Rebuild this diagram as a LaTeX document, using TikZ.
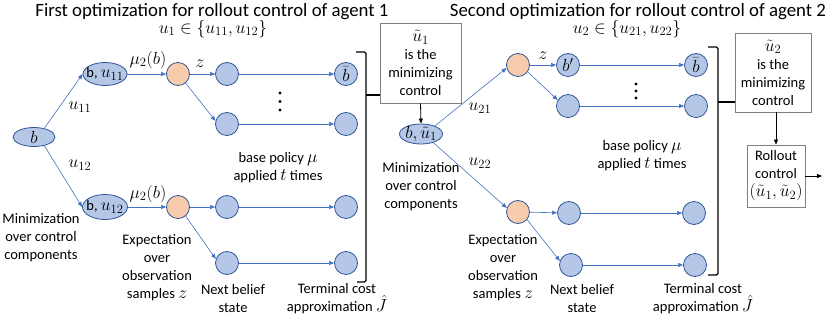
\RequirePackage{fix-cm}
\documentclass[tikz,border=0pt]{standalone}
\usepackage{fontspec}
\setmainfont{Carlito}
\DeclareMathSizes{14.5}{17.5}{12.6}{10}
\usetikzlibrary{arrows.meta,shapes.geometric}
\definecolor{lineblue}{HTML}{4472C4}
\definecolor{fillblue}{HTML}{B4C7E7}
\definecolor{edgeblue}{HTML}{2F5597}
\definecolor{fillorange}{HTML}{F8CBAD}
\begin{document}
\begin{tikzpicture}[x=1pt,y=-1pt,
 every node/.style={font=\fontsize{14.5}{18}\selectfont, inner sep=0pt},
 st/.style={circle, draw=edgeblue, fill=fillblue, line width=0.8pt, minimum size=23pt},
 ob/.style={circle, draw=edgeblue, fill=fillorange, line width=0.8pt, minimum size=23pt},
 el/.style={ellipse, draw=edgeblue, fill=fillblue, line width=0.8pt},
 ar/.style={draw=lineblue, line width=0.6pt, -{Triangle[length=5pt,width=4pt]}},
 bar/.style={draw=black, line width=0.8pt, -{Triangle[length=5pt,width=4pt]}},
 box/.style={draw=gray, line width=0.8pt, align=center},
 txt/.style={align=center},
 ttl/.style={font=\fontsize{18.8}{22}\selectfont},
 brc/.style={draw=black, line width=1.4pt, rounded corners=1.5pt},
 dot/.style={fill=black, draw=none, circle, minimum size=3.2pt},
]
\useasboundingbox (0,0) rectangle (830,318);

% titles
\node[ttl] (t1) at (212,12) {First optimization for rollout control of agent 1};
\node (m1) at (213,29) {$u_1\in\{u_{11},u_{12}\}$};
\node[ttl] (t2) at (638,12) {Second optimization for rollout control of agent 2};
\node (m2) at (627,29) {$u_2\in\{u_{21},u_{22}\}$};

% ---------- left part ----------
\node[el, minimum width=42pt, minimum height=19pt] (b) at (34,137) {};
\node (bl) at (b) {$b$};
\node[el, minimum width=44pt, minimum height=23pt] (bu1) at (105,74) {};
\node (bu1l) at (bu1) {b, $u_{11}$};
\node[el, minimum width=45pt, minimum height=25pt] (bu2) at (105,207) {};
\node (bu2l) at (bu2) {b, $u_{12}$};
\node[ob] (o1) at (178,74) {};
\node[ob] (o2) at (178,207) {};
\node[st] (c11) at (227,74) {};
\node[st] (c12) at (227,124) {};
\node[st] (c13) at (346,74) {$\bar b$};
\node[st] (c14) at (346,124) {};
\node[st] (c21) at (227,207) {};
\node[st] (c22) at (227,263) {};
\node[st] (c23) at (346,207) {};
\node[st] (c24) at (346,263) {};

\draw[ar] (b.40) -- (bu1.west);
\draw[ar] (b.-40) -- (bu2.west);
\draw[ar] (bu1) -- (o1);
\draw[ar] (bu2) -- (o2);
\draw[ar] (o1) -- (c11);
\draw[ar] (o1.-50) -- (c12.165);
\draw[ar] (c11) -- (c13);
\draw[ar] (c12) -- (c14);
\draw[ar] (o2) -- (c21);
\draw[ar] (o2.-50) -- (c22.160);
\draw[ar] (c21) -- (c23);
\draw[ar] (c22) -- (c24);

\node (lu11) at (80,107) {$u_{11}$};
\node (lu12) at (80,165) {$u_{12}$};
\node (lmu1) at (148,60) {$\mu_2(b)$};
\node (lmu2) at (148,194) {$\mu_2(b)$};
\node (lz1) at (200,64) {$z$};
\node[dot] (dA) at (280,93) {};
\node[dot] (dB) at (280,101.5) {};
\node[dot] (dC) at (280,110) {};

\node[txt] (min1) at (41,238) {Minimization\\over control\\components};
\node[txt] (exp1) at (157,268) {Expectation\\over\\observation\\samples $z$};
\node[txt] (nb1) at (233,299) {Next belief\\state};
\node[txt] (tc1) at (337,299) {Terminal cost\\approximation $\hat J$};
\node[txt] (bp1) at (278,168) {base policy $\mu$\\applied $t$ times};

% brace 1 and box 1
\node[box, minimum width=81pt, minimum height=80pt] (box1) at (420.5,63) {$\tilde u_1$\\is the\\minimizing\\control};
\draw[brc] (356,52) -- (366,52) -- (366,282) -- (357,282);
\coordinate (k1) at (366,95);
\draw[brc] (k1) -- (k1 -| box1.west);

% ---------- right part ----------
\node[el, minimum width=43pt, minimum height=20pt] (bt) at (421,134) {};
\node (btl) at (bt) {$b,\tilde u_1$};
\draw[bar] (box1.south) -- (bt.north);

\node[ob] (o3) at (518,65) {};
\node[ob] (o4) at (518,212) {};
\node[st] (d11) at (568,65) {$b'$};
\node[st] (d12) at (568,106) {};
\node[st] (d13) at (696,65) {$\bar b$};
\node[st] (d14) at (696,106) {};
\node[st] (d21) at (569,213) {};
\node[st] (d22) at (571,265) {};
\node[st] (d23) at (694,213) {};
\node[st] (d24) at (695,265) {};

\draw[ar] (bt.30) -- (o3.195);
\draw[ar] (bt.-35) -- (o4.160);
\draw[ar] (o3) -- (d11);
\draw[ar] (o3.-35) -- (d12.150);
\draw[ar] (d11) -- (d13);
\draw[ar] (d12) -- (d14);
\draw[ar] (o4) -- (d21);
\draw[ar] (o4.-40) -- (d22.160);
\draw[ar] (d21) -- (d23);
\draw[ar] (d22) -- (d24);

\node (lu21) at (480,108) {$u_{21}$};
\node (lu22) at (480,163) {$u_{22}$};
\node (lz2) at (543,56) {$z$};
\node[dot] (dD) at (636,84) {};
\node[dot] (dE) at (636,91) {};
\node[dot] (dF) at (636,98) {};

\node[txt] (min2) at (421,187) {Minimization\\over control\\components};
\node[txt] (exp2) at (503,268) {Expectation\\over\\observation\\samples $z$};
\node[txt] (nb2) at (582,299) {Next belief\\state};
\node[txt] (tc2) at (703,299) {Terminal cost\\approximation $\hat J$};
\node[txt] (bp2) at (642,156) {base policy $\mu$\\applied $t$ times};

% brace 2 and boxes
\node[box, minimum width=76pt, minimum height=79pt] (box2) at (773,72.5) {$\tilde u_2$\\is the\\minimizing\\control};
\draw[brc] (708,47) -- (718,47) -- (718,275) -- (708,275);
\coordinate (k2) at (718,102);
\draw[brc] (k2) -- (k2 -| box2.west);

\node[box, minimum width=58pt, minimum height=62pt] (roll) at (776,176) {Rollout\\control\\$(\tilde u_1,\tilde u_2)$};
\draw[bar] (box2.south -| roll.north) -- (roll.north);
\coordinate (out) at (822,176);
\draw[bar] (roll.east) -- (out);
\end{tikzpicture}
\end{document}
